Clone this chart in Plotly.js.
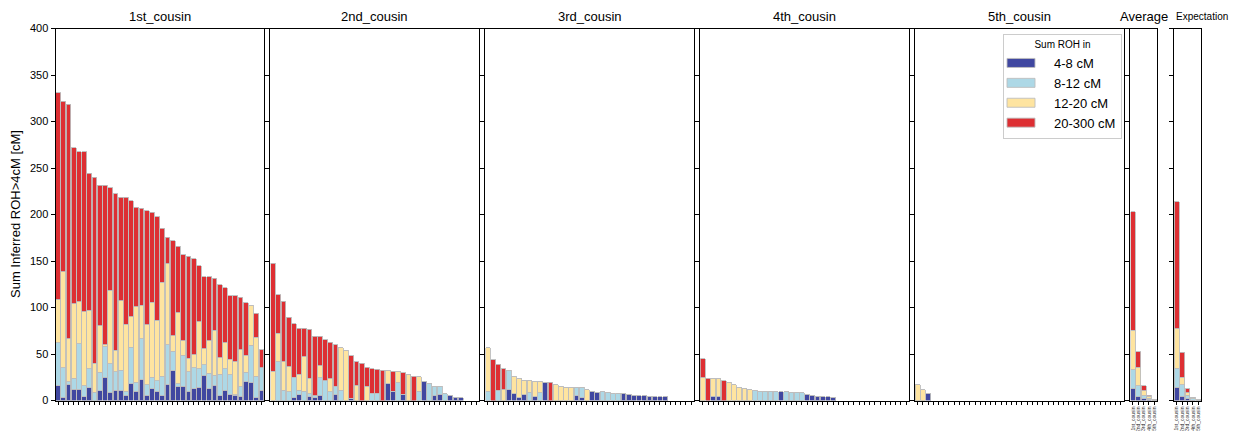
<!DOCTYPE html>
<html>
<head>
<meta charset="utf-8">
<script src="https://cdn.plot.ly/plotly-3.0.1.min.js"></script>
<style>html,body{margin:0;padding:0;background:#fff}#chart{width:1234px;height:431px}</style>
</head>
<body>
<div id="chart"></div>
<script>
// ---- Data (cM of ROH per length bin) ----
const binNames = ['4-8 cM', '8-12 cM', '12-20 cM', '20-300 cM'];
const panelTitles = ['1st_cousin', '2nd_cousin', '3rd_cousin', '4th_cousin', '5th_cousin', 'Average', 'Expectation'];
const summaryLabels = ['1st_cousin', '2nd_cousin', '3rd_cousin', '4th_cousin', '5th_cousin'];

const c1_4_8    = [16.1,3.6,17.2,12.2,12.2,4.3,13.6,0,10.4,25.1,9,10.8,10.8,5.4,17.9,9.7,22.2,5.7,12.9,10,5,16.8,31.9,15,15.4,10,12.5,14.3,26.9,12.5,16.5,5,11.1,6.1,5.4,4.7,20.4,19,2.9,11.1];
const c1_8_12   = [45.9,31.5,3,11.8,48.7,11.8,20.5,9,20.1,32.6,30.4,20,21.8,4.6,39.4,9.7,44.1,11.5,12.2,11.5,21.2,43.1,21.1,3,33,20.8,22.6,19.8,11.8,16.9,10.4,23,23,21.5,1,10,10.1,40.5,23.3,24];
const c1_12_20  = [46.6,103.6,46.1,80.3,45.2,79.2,63,30.8,50.1,2,78.9,23.3,74.9,72.1,33,81.3,35.9,64.5,80.6,64.9,101,87.1,16.5,76.3,16.1,14.7,14,50.5,16.9,34.8,48.7,18.2,27.9,16.8,35.5,40.1,18.2,42.7,41.9,0];
const c1_20_300 = [222.2,183.2,252,167.4,161.3,172.1,147.3,200.3,150.9,171.8,110.4,168.1,111.1,136.5,124.4,107.2,104.3,122.3,96.8,111.4,58.1,28.6,102.5,71.7,92.1,109.7,103.2,60.2,77.7,69.1,55.9,78.2,59.1,68.5,71,56.3,56.3,0,25.8,19.7];

const c2_4_8    = [0,0,0,0,2.9,6,0,4,3,5.4,0,0,6.1,0,0,2.5,0,0,0,0,0,0,17.9,10,0,6.5,0,0,0,20.8,0,5,6.8,0,5,3.6,3.2];
const c2_8_12   = [0,41.9,10.8,9.3,22.2,5,9.7,3,2,19.3,21.5,9.3,9,10.8,0,0,0,0,0,7.9,7.9,0,0,0,19,0,0,0,9.7,0,18.6,10.4,8.6,7.2,0,0,0];
const c2_12_20  = [31.5,30.5,31.1,26.9,0,17,37.6,17,0,12.6,0,14,0,45.8,53.8,0,16.5,0,15.4,0,0,0,14.4,0,12.5,0,27.6,0,15.7,0,0,0,0,0,0,0,0];
const c2_20_300 = [116.2,41.2,64.6,53.4,57.3,49.8,30.5,52.7,64.2,31.9,43.7,39.1,44.8,0,0,45.5,25.1,40.1,20.1,26.5,25.8,32.3,0,21.5,0,23.6,0,26.2,0,0,0,0,0,0,0,0,0];

const c3_4_8    = [0,0,0,0,11.8,7.2,3.6,6.1,0,3.9,0,19.4,0,0,0,0,0,5,3.2,0,9.3,8.6,0,0,0,0,7.2,6.8,5.7,5,5,4.7,4.3,3.9,3.9];
const c3_8_12   = [9.7,0,10.8,0,20.8,0,0,0,9,0,8.6,0,0,0,0,0,0,9.3,11.1,0,0,0,9.3,9,7.9,7.5,0,0,0,0,0,0,0,0,0];
const c3_12_20  = [46.9,0,0,11.5,0,19,19.7,15.8,12.5,16.9,12.2,0,0,17.2,15.4,14.3,14.3,0,0,11.5,0,0,0,0,0,0,0,0,0,0,0,0,0,0,0];
const c3_20_300 = [0,43.7,28.3,22.6,0,0,0,0,0,0,0,0,19.4,0,0,0,0,0,0,0,0,0,0,0,0,0,0,0,0,0,0,0,0,0,0];

const c4_4_8    = [0,0,4.7,4.7,0,0,0,0,0,0,0,0,0,0,0,9.3,0,0,0,0,6.8,5.4,4.7,4.3,3.9,3.6];
const c4_8_12   = [0,0,0,0,0,0,0,0,0,0,10.8,9.7,9.3,9.3,9.3,0,9.3,8.6,8.6,8.6,0,0,0,0,0,0];
const c4_12_20  = [24.4,0,19.3,19.3,0,19.4,17.2,14.3,12.5,11.5,0,0,0,0,0,0,0,0,0,0,0,0,0,0,0,0];
const c4_20_300 = [20.4,24,0,0,21.1,0,0,0,0,0,0,0,0,0,0,0,0,0,0,0,0,0,0,0,0,0];

const c5_4_8    = [0,0,7.2];
const c5_8_12   = [0,0,0];
const c5_12_20  = [17.2,11.5,0];
const c5_20_300 = [0,0,0];

const avg_4_8    = [13.2,4.3,1.8,0.8,0.3];
const avg_8_12   = [20,11.8,3.6,1.8,0];
const avg_12_20  = [42.5,19.7,5,2,0.7];
const avg_20_300 = [127.5,16.8,5.3,0.8,0];

const exp_4_8    = [14.3,4.6,2.1,0.5,0.2];
const exp_8_12   = [20.4,12.2,3.3,1.2,0.3];
const exp_12_20  = [42.2,8.2,2.8,1.2,0.3];
const exp_20_300 = [136.7,26.9,4.3,0.7,0.2];

const yTicks = [0,50,100,150,200,250,300,350,400];

// ---- Styling ----
const colors = ['#4047A0', '#ADD8E6', '#FEE4A0', '#DD2F33'];
const edge = '#BDBDBD';
const FONT = 'Liberation Sans, Arial, Helvetica, sans-serif';
const W = 1234, H = 431;

const panelData = [
  [c1_4_8, c1_8_12, c1_12_20, c1_20_300],
  [c2_4_8, c2_8_12, c2_12_20, c2_20_300],
  [c3_4_8, c3_8_12, c3_12_20, c3_20_300],
  [c4_4_8, c4_8_12, c4_12_20, c4_20_300],
  [c5_4_8, c5_8_12, c5_12_20, c5_20_300],
  [avg_4_8, avg_8_12, avg_12_20, avg_20_300],
  [exp_4_8, exp_8_12, exp_12_20, exp_20_300]
];
// pixel extents of each panel
const pxDom = [[55.5,264],[270.4,478.9],[485.3,693.8],[700.2,908.7],[915.1,1123.6],[1130.3,1157],[1174,1201]];
const yDom = [(H-400.5)/H, (H-28.5)/H];

const traces = [];
const layout = {
  width: W, height: H,
  margin: {l:0, r:0, t:0, b:0},
  paper_bgcolor: '#fff', plot_bgcolor: '#fff',
  barmode: 'stack', bargap: 0.08,
  font: {family: FONT, color: '#000', size: 11},
  showlegend: true,
  legend: {
    x: 1003/W, y: 1 - 34/H, xanchor: 'left', yanchor: 'top',
    bgcolor: '#fff', bordercolor: '#CCCCCC', borderwidth: 1,
    itemwidth: 40,
    font: {family: FONT, size: 13, color: '#000'},
    title: {text: 'Sum ROH in', side: 'top center', font: {family: FONT, size: 10, color: '#000'}},
    traceorder: 'normal', itemclick: false, itemdoubleclick: false
  },
  annotations: [], shapes: []
};

panelData.forEach((bins, k) => {
  const sfx = k === 0 ? '' : String(k + 1);
  const isSummary = k >= 5;
  bins.forEach((vals, b) => {
    traces.push({
      type: 'bar',
      x: vals.map((_, i) => i),
      y: vals,
      name: binNames[b],
      legendgroup: binNames[b],
      showlegend: k === 0,
      xaxis: 'x' + sfx, yaxis: 'y' + sfx,
      marker: {color: colors[b], line: {color: edge, width: 0.9}},
      hovertemplate: binNames[b] + ': %{y}<extra></extra>'
    });
  });
  const dom = [pxDom[k][0]/W, pxDom[k][1]/W];
  const xa = {
    domain: dom, anchor: 'y' + sfx,
    range: isSummary ? [-0.5, 4.5] : [-0.5, 39.5],
    showline: true, mirror: true, linecolor: '#000', linewidth: 1,
    ticks: 'outside', ticklen: 3, tickwidth: 1, tickcolor: '#000',
    showgrid: false, zeroline: false, fixedrange: true
  };
  if (isSummary) {
    xa.tickmode = 'array';
    xa.tickvals = summaryLabels.map((_, i) => i);
    xa.ticktext = summaryLabels;
    xa.tickangle = -90;
    xa.tickfont = {family: FONT, size: 5, color: '#333'};
    xa.showticklabels = true;
  } else {
    xa.tickmode = 'linear'; xa.tick0 = 0; xa.dtick = 1;
    xa.showticklabels = false;
  }
  const ya = {
    domain: yDom, anchor: 'x' + sfx, range: [0, 400],
    showline: true, mirror: true, linecolor: '#000', linewidth: 1,
    ticks: 'outside', ticklen: 4, tickwidth: 1, tickcolor: '#000',
    tickmode: 'array', tickvals: yTicks, ticktext: yTicks.map(String),
    showticklabels: k === 0, tickfont: {family: FONT, size: 11, color: '#000'},
    showgrid: false, zeroline: false, fixedrange: true
  };
  layout['xaxis' + sfx] = xa;
  layout['yaxis' + sfx] = ya;

  const isExp = k === 6;
  layout.annotations.push({
    text: panelTitles[k], xref: 'paper', yref: 'paper',
    x: isExp ? dom[0] : (dom[0] + dom[1]) / 2,
    xanchor: isExp ? 'left' : 'center',
    y: 1 - 17/H, yanchor: 'middle', showarrow: false,
    font: {family: FONT, size: isExp ? 10 : 13, color: '#000'}
  });
});

layout.annotations.push({
  text: 'Sum Inferred ROH>4cM [cM]', xref: 'paper', yref: 'paper',
  x: 16/W, y: 1 - 214/H, xanchor: 'center', yanchor: 'middle',
  textangle: -90, showarrow: false,
  font: {family: FONT, size: 13, color: '#000'}
});

Plotly.newPlot('chart', traces, layout, {displayModeBar: false, staticPlot: true}).then(gd => {
  // widen the legend swatches to match the reference's rectangular patches
  gd.querySelectorAll('.legend .legendpoints path').forEach(p => {
    p.setAttribute('d', 'M6,4.5H-22V-4.5H6Z');
  });
});
</script>
</body>
</html>
